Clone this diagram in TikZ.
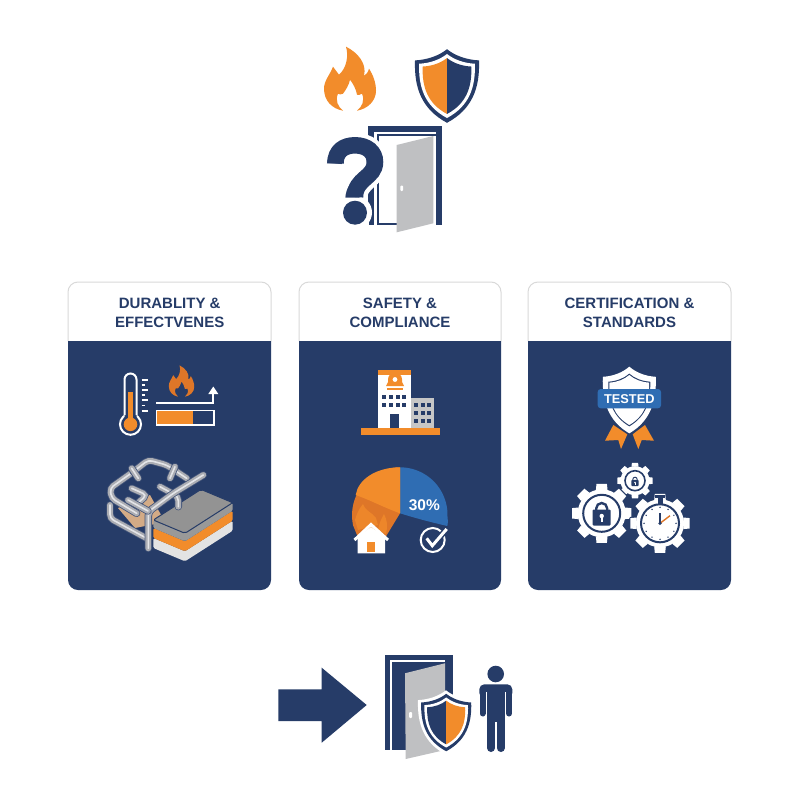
\documentclass[tikz,border=0pt]{standalone}
\usepackage{fontspec}
\usetikzlibrary{calc}
\setmainfont{Liberation Sans}
\definecolor{navy}{HTML}{263C68}
\definecolor{orng}{HTML}{F28C2B}
\definecolor{dorng}{HTML}{DE7628}
\definecolor{doorgray}{HTML}{BFC0C2}
\definecolor{blu}{HTML}{2F6DB3}
\definecolor{edge}{HTML}{D9D9D9}
\definecolor{pipeout}{HTML}{44557A}
\definecolor{pipemid}{HTML}{ABADB3}
\definecolor{pipelit}{HTML}{E4E5E8}
\newcommand{\flameshape}{(-7,0) .. controls (-18,-2) and (-26,-10) .. (-26,-22) .. controls (-26,-30) and (-20,-36) .. (-17,-44) .. controls (-15,-41) and (-13,-39) .. (-11,-36) .. controls (-4,-42) and (-1,-54) .. (-4,-64) .. controls (8,-58) and (17,-47) .. (14,-35) .. controls (16,-36) and (18,-38) .. (19,-42) .. controls (23,-36) and (26,-28) .. (26,-20) .. controls (26,-10) and (18,-2) .. (7,0) .. controls (12,-4) and (15,-10) .. (12,-17) .. controls (10,-16) and (8,-15) .. (7,-16) .. controls (6,-22) and (3,-27) .. (0,-31) .. controls (-1,-26) and (-4,-21) .. (-7,-17) .. controls (-9,-16) and (-11,-16) .. (-12,-17) .. controls (-15,-10) and (-12,-4) .. (-7,0) -- cycle}
\newcommand{\shieldshape}{(0,-1.15) .. controls (.25,-.95) and (.6,-.82) .. (1,-.8) .. controls (1.03,.05) and (.8,.72) .. (0,1.15) .. controls (-.8,.72) and (-1.03,.05) .. (-1,-.8) .. controls (-.6,-.82) and (-.25,-.95) .. (0,-1.15) -- cycle}
\newcommand{\twotoneshield}[5]{%
  \begin{scope}[shift={(#1,#2)},scale=#3]
    \fill[navy] \shieldshape;
    \fill[white,scale=.87] \shieldshape;
    \begin{scope}[scale=.76]
      \clip \shieldshape;
      \fill[#4] (-1.2,-1.3) rectangle (0,1.3);
      \fill[#5] (0,-1.3) rectangle (1.2,1.3);
    \end{scope}
  \end{scope}}
\newcommand{\pipe}[1]{%
  \draw[pipeout,line width=7.4pt,rounded corners=4pt,line cap=round] #1;
  \draw[pipemid,line width=5.8pt,rounded corners=4pt,line cap=round] #1;
  \draw[pipelit,line width=1.6pt,rounded corners=4pt,line cap=round] #1;}
\newcommand{\slablayer}[3]{%
  \fill[#3,rounded corners=1.5pt] (153.3,{520+#1}) -- (185,{533.3+#1}) -- (232.7,{502.7+#1}) -- (232.7,{502.7+#2}) -- (185,{533.3+#2}) -- (153.3,{520+#2}) -- cycle;}
\newcommand{\gearicon}[5]{%
  \begin{scope}[shift={(#1,#2)}]
    \foreach \k in {1,...,#5} {
      \pgfmathsetmacro{\ang}{360*\k/#5}
      \draw[navy,line width=2.4pt,fill=navy,line join=round] ({\ang-14}:#4) -- ({\ang-10}:#3) -- ({\ang+10}:#3) -- ({\ang+14}:#4) -- cycle;
    }
    \draw[navy,line width=2.4pt,fill=navy] (0,0) circle (#4);
    \foreach \k in {1,...,#5} {
      \pgfmathsetmacro{\ang}{360*\k/#5}
      \fill[white] ({\ang-14}:#4) -- ({\ang-10}:#3) -- ({\ang+10}:#3) -- ({\ang+14}:#4) -- cycle;
    }
    \fill[white] (0,0) circle (#4);
  \end{scope}}
\newcommand{\lockicon}[3]{%
  \begin{scope}[shift={(#1,#2)},scale=#3]
    \draw[navy,line width=#3*2.4pt] (-5.5,-6) -- (-5.5,-9) arc (180:360:5.5) -- (5.5,-6);
    \fill[navy,rounded corners=1pt] (-9,-8) rectangle (9,8);
    \fill[white] (0,-1.5) circle (2.2);
    \fill[white] (-1,-1) rectangle (1,4);
  \end{scope}}
\newcommand{\wbox}[3]{\fill[#3] ({#1-1.9},{#2-1.9}) rectangle ({#1+1.9},{#2+1.9});}
\begin{document}
\begin{tikzpicture}[x=1pt,y=-1pt,
  cardtitle/.style={text=navy,font=\bfseries\fontsize{15}{19}\selectfont,align=center,inner sep=0pt},
  cardhead/.style={fill=white,draw=edge,line width=1pt},
  cardbody/.style={fill=navy}]
\useasboundingbox (0,0) rectangle (800,800);
\fill[white] (0,0) rectangle (800,800);

%% ---- top group ----
\begin{scope}[shift={(350,110.7)}]
  \fill[orng] \flameshape;
\end{scope}
\twotoneshield{447}{86}{32}{orng}{navy}
\fill[navy] (367.7,126) rectangle (441.7,225);
\fill[white] (374,131.5) rectangle (436,225);
\draw[navy,line width=2.4pt] (378,225) -- (378,135) -- (436,135);
\draw[navy,line width=2.4pt] (378,224) -- (400,224);
\fill[doorgray] (396.7,145) -- (433.3,136) -- (433.3,223.3) -- (396.7,232.3) -- cycle;
\fill[white,rounded corners=1pt] (400.3,185.5) rectangle (403.2,191);
\draw[white,line width=25pt] (355,145.5) .. controls (367,145.5) and (375,152) .. (375,162) .. controls (375,178) and (355,178) .. (355,198);
\fill[white] (355,212.5) circle (17);
\node[inner sep=0pt,text=navy,font=\bfseries\fontsize{122}{122}\selectfont,xscale=.88,transform shape] (qmark) at (355,181) {?};
\fill[white] (340,203) rectangle (369,226);
\draw[navy,line width=16.5pt] (335.5,163) .. controls (335.5,151) and (344,145.3) .. (355,145.3) .. controls (367,145.3) and (375,152) .. (375,162) .. controls (375,178) and (355,178) .. (355,197);
\fill[navy] (355,212.7) circle (12);

%% ---- cards ----
\foreach \xa/\xb in {68/271,299/501,528/731} {
  \draw[cardhead,rounded corners=10pt] (\xa,341) -- (\xa,282) -- (\xb,282) -- (\xb,341);
  \fill[cardbody] (\xa,341) -- (\xa,580) arc (180:90:10) -- (\xb-10,590) arc (90:0:10) -- (\xb,341) -- cycle;
}
\node[cardtitle] (t1) at (169.7,313) {DURABLITY \&\\EFFECTVENES};
\node[cardtitle] (t2) at (400,313) {SAFETY \&\\COMPLIANCE};
\node[cardtitle] (t3) at (629.5,313) {CERTIFICATION \&\\STANDARDS};

%% ---- card 1 ----
\draw[white,line width=2pt,fill=navy] (130.5,424.3) circle (10.5);
\fill[navy] (124.5,379.5) arc (180:360:6) -- (136.5,418) -- (124.5,418) -- cycle;
\draw[white,line width=2pt] (124.5,415) -- (124.5,379.5) arc (180:360:6) -- (136.5,415);
\fill[orng] (128.2,392) rectangle (133,420);
\fill[orng] (130.5,424.3) circle (6.8);
\foreach \yy/\xe in {380/148,385/145,390/148,395/145,400/148,405.5/145,411/148}
  \draw[white,line width=1.2pt] (141.7,\yy) -- (\xe,\yy);
\begin{scope}[shift={(181.5,396.7)},scale=.49]
  \fill[dorng] \flameshape;
\end{scope}
\draw[white,line width=2.2pt] (156,402.7) -- (213.3,402.7) -- (213.3,392);
\fill[white] (213.3,386.5) -- (218.3,394) -- (208.3,394) -- cycle;
\fill[orng] (157,411) rectangle (192.7,424.5);
\draw[white,line width=1.7pt] (156.5,410.5) rectangle (214,425);
\fill[doorgray!60!orng] (118,508) -- (150,495) -- (165,522) -- (135,528) -- cycle;
\pipe{(133.3,471.7) -- (110,488.3) -- (111.7,498.3) -- (136.7,513.3)}
\pipe{(110,505) -- (110,518.3) -- (146.7,538.3)}
\pipe{(133.3,471.7) -- (148.3,460) -- (166.7,465) -- (186.7,478.3)}
\pipe{(131.7,468.3) -- (138.3,478.3)}
\pipe{(175,466.7) -- (170,478.3)}
\pipe{(131.7,488.3) -- (146.7,495) -- (136,505)}
\slablayer{18}{28}{gray!22!white}
\slablayer{8}{18}{orng}
\slablayer{0}{8}{gray!80!white}
\draw[navy,line width=1pt,fill=gray!85!white,rounded corners=2pt,line join=round] (153.3,520) -- (201,489.4) -- (232.7,502.7) -- (185,533.3) -- cycle;
\pipe{(160,486.7) -- (178.3,496.7) -- (178.3,506.7)}
\pipe{(203.3,475) -- (173.3,493.3) -- (148.3,511.7) -- (148.3,548.3)}
\pipe{(128,500) -- (148,511)}

%% ---- card 2 ----
\fill[white] (378,370) rectangle (411,428.3);
\fill[orng] (378,370) rectangle (411,375);
\fill[orng] (388,382) -- (388,379.5) arc (180:360:7) -- (402,382) -- (404,386) -- (386,386) -- cycle;
\fill[white] (395,379.5) circle (2.4);
\fill[orng] (386.7,388) rectangle (403.3,390);
\foreach \yy in {396.7,405} \foreach \xx in {384.3,391,397.7,404.3} { \wbox{\xx}{\yy}{navy} }
\fill[navy] (390,414) rectangle (399,428.3);
\fill[gray!45!white] (411,398.3) rectangle (434.3,428.3);
\foreach \yy in {405,412.7,420.7} \foreach \xx in {416,422.7,429.3} { \wbox{\xx}{\yy}{navy} }
\fill[orng] (361,428.3) rectangle (440,435);
\fill[blu] (400,513.3) -- (400,467.3) arc (-90:2:47.5) .. controls (448,522) and (448,524) .. (447.3,526) .. controls (430,522) and (415,518) .. (400,513.3) -- cycle;
\fill[dorng] (400,513.3) -- (400,467.3) arc (-90:-192:48) -- (357,535) -- (385,538) -- cycle;
\fill[orng] (400,513.3) -- (400,467.3) .. controls (375,467.5) and (358,480) .. (355.7,495) .. controls (370,500) and (385,508) .. (400,513.3) -- cycle;
\fill[orng!75!dorng] (355,520) .. controls (358,510) and (360,508) .. (363,504) .. controls (366,512) and (372,512) .. (376,518) -- (378,525) -- (358,530) -- cycle;
\fill[orng!75!dorng] (378,530) .. controls (380,520) and (382,518) .. (384,514) .. controls (387,520) and (388,525) .. (386,534) -- cycle;
\node[inner sep=0pt,text=white,font=\bfseries\fontsize{15.5}{16}\selectfont] (pct) at (424.3,505) {30\%};
\fill[white] (357.7,537) -- (371,527) -- (385,537) -- (385,553.3) -- (357.7,553.3) -- cycle;
\draw[white,line width=3pt,line join=miter] (354.5,540) -- (371,524.5) -- (388,540);
\fill[orng] (366.7,542.3) rectangle (375.3,551.7);
\draw[white,line width=2pt] (432.7,540) circle (12);
\draw[navy,line width=6pt] (426.7,538.3) -- (432.3,545.7) -- (446.7,529);
\draw[white,line width=3pt] (426.7,538.3) -- (432.3,545.7) -- (446.7,529);

%% ---- card 3 ----
\fill[orng] (613.3,425) -- (605,440.7) -- (618.3,440) -- (621,449) -- (627.3,434.3) -- cycle;
\fill[orng] (645,425) -- (654,440.7) -- (641.7,440) -- (638.3,449) -- (632.7,434.3) -- cycle;
\begin{scope}[shift={(629.3,400)},xscale=26.5,yscale=29]
  \fill[white] \shieldshape;
  \fill[navy,scale=.79] \shieldshape;
  \fill[white,scale=.75] \shieldshape;
\end{scope}
\fill[blu,rounded corners=3pt] (597.7,389) rectangle (661,408.3);
\node[inner sep=0pt,text=white,font=\bfseries\fontsize{12.8}{13}\selectfont] (tested) at (629.3,398.7) {TESTED};
\gearicon{635}{480.7}{18}{14.5}{8}
\draw[navy,line width=1.6pt] (635,480.7) circle (10);
\lockicon{635}{483}{.4}
\gearicon{601.7}{513.3}{30}{24}{8}
\draw[navy,line width=2pt] (601.7,513.3) circle (18.5);
\lockicon{601.7}{517.5}{1}
\gearicon{660}{523.3}{30}{24}{8}
\draw[navy,line width=2pt] (660,523.3) circle (19);
\foreach \a in {0,30,...,330} \fill[navy] ($(660,523.3)+(\a:16)$) circle (.8);
\fill[navy] (657.5,497) rectangle (662.5,504);
\fill[navy] (655,495) rectangle (665,498);
\draw[navy,line width=1.4pt] (660,523.3) -- (660,513);
\draw[dorng,line width=1.4pt] (660,523.3) -- (670,515.7);
\fill[navy] (660,523.3) circle (1.8);

%% ---- bottom group ----
\fill[navy] (278.3,689.3) -- (321.7,689.3) -- (321.7,667.7) -- (366.7,705) -- (321.7,742.7) -- (321.7,721) -- (278.3,721) -- cycle;
\fill[navy] (385,655) rectangle (452.7,750);
\draw[white,line width=2.2pt] (391.2,750) -- (391.2,661) -- (445,661);
\fill[doorgray] (405,673.3) -- (445,663.3) -- (445,750) -- (405.7,759) -- cycle;
\fill[white,rounded corners=1pt] (409.2,712) rectangle (412.2,718);
\begin{scope}[shift={(446,722.5)},xscale=28,yscale=28]
  \fill[white] \shieldshape;
\end{scope}
\twotoneshield{446.2}{722.5}{25}{navy}{orng}
\fill[navy] (495.7,674) circle (8.3);
\fill[navy,rounded corners=5pt] (479.3,684.3) rectangle (512.3,698);
\draw[navy,line width=6pt,line cap=round] (482.5,690) -- (482.5,713.5);
\draw[navy,line width=6pt,line cap=round] (509,690) -- (509,713.5);
\fill[white] (485.5,692) rectangle (487,718);
\fill[white] (504.5,692) rectangle (506,718);
\fill[navy] (487,686) rectangle (504.5,722);
\draw[navy,line width=8pt,line cap=round] (491,715) -- (491,748);
\draw[navy,line width=8pt,line cap=round] (500.7,715) -- (500.7,748);
\end{tikzpicture}
\end{document}
